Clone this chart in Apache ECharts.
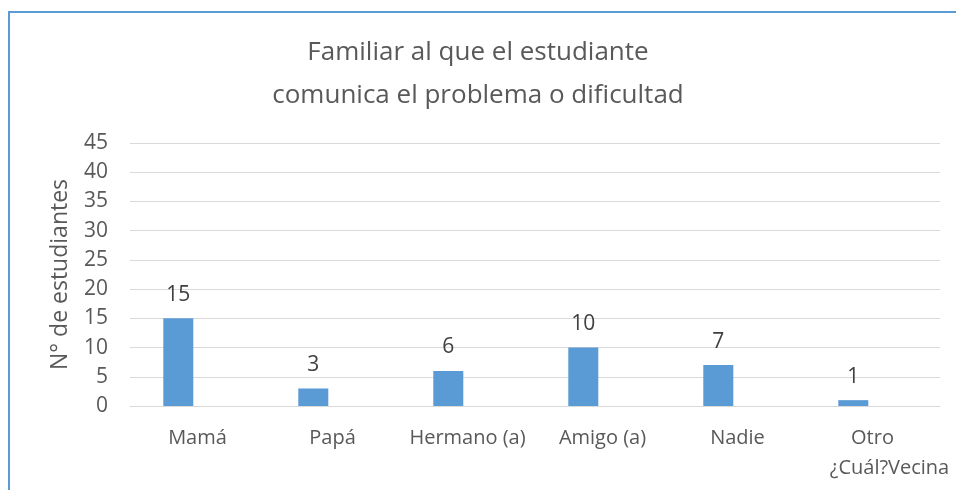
<!DOCTYPE html>
<html>
<head>
<meta charset="utf-8">
<script src="https://cdn.jsdelivr.net/npm/echarts@6/dist/echarts.min.js"></script>
<style>
  html, body { margin: 0; padding: 0; background: #fff; }
  #chart { width: 956px; height: 490px; }
</style>
</head>
<body>
<div id="chart"></div>
<script>
// datos del gráfico
var categorias = ['Mamá', 'Papá', 'Hermano (a)', 'Amigo (a)', 'Nadie', 'Otro\n¿Cuál?Vecina']
var estudiantes = [15, 3, 6, 10, 7, 1]
var vacia = [null, null, null, null, null, null] // segunda serie sin datos (desplaza las barras)
var ejeMax = 45
var ejePaso = 5

var textColor = '#595959'
var fontFam = 'Open Sans'

var myChart = echarts.init(document.getElementById('chart'), null, { renderer: 'canvas' })

myChart.setOption({
  animation: false,
  textStyle: { fontFamily: fontFam },
  title: {
    text: 'Familiar al que el estudiante\ncomunica el problema o dificultad',
    left: 'center',
    top: 26,
    textStyle: {
      color: textColor,
      fontSize: 26,
      fontWeight: 'normal',
      lineHeight: 43,
      fontFamily: fontFam
    }
  },
  graphic: [{
    type: 'rect',
    shape: { x: 9, y: 12, width: 1100, height: 700 },
    style: { fill: 'none', stroke: '#5B9BD5', lineWidth: 2 },
    silent: true
  }],
  grid: { left: 130, right: 16, top: 143, bottom: 84, containLabel: false },
  xAxis: {
    type: 'category',
    data: categorias,
    axisLine: { lineStyle: { color: '#D9D9D9', width: 1 } },
    axisTick: { show: false },
    axisLabel: {
      color: textColor,
      fontSize: 20,
      margin: 17,
      lineHeight: 30,
      interval: 0,
      // la 2ª línea de la última etiqueta aparece corrida a la derecha en el original
      formatter: function (val) {
        var partes = val.split('\n')
        if (partes.length < 2) return val
        return '{a|' + partes[0] + '}\n{b|' + partes[1] + '}'
      },
      rich: {
        a: { fontSize: 20, lineHeight: 30, color: textColor },
        b: { fontSize: 20, lineHeight: 30, color: textColor, padding: [0, 0, 0, 34] }
      }
    }
  },
  yAxis: {
    type: 'value',
    min: 0,
    max: ejeMax,
    interval: ejePaso,
    name: 'N° de estudiantes',
    nameLocation: 'middle',
    nameGap: 58,
    nameTextStyle: { color: textColor, fontSize: 23 },
    axisLine: { show: false },
    axisTick: { show: false },
    axisLabel: { color: textColor, fontSize: 21, margin: 22 },
    splitLine: { lineStyle: { color: '#D9D9D9', width: 1 } }
  },
  series: [{
    type: 'bar',
    data: estudiantes,
    barWidth: 30,
    barGap: '28%',
    itemStyle: { color: '#5B9BD5' },
    label: {
      show: true,
      position: 'top',
      distance: 13,
      color: '#404040',
      fontSize: 21
    }
  }, {
    type: 'bar',
    data: vacia,
    barWidth: 30
  }]
})
</script>
</body>
</html>
